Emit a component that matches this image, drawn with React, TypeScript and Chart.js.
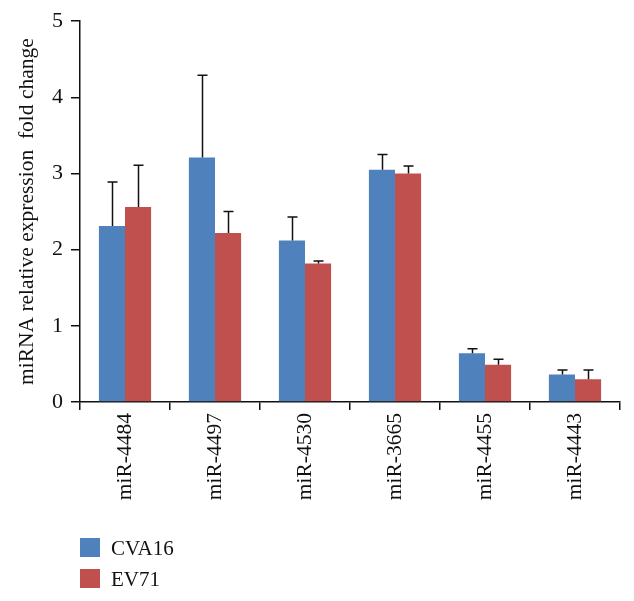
import React, { useEffect, useRef } from "react";
import { Chart, registerables } from "chart.js";

Chart.register(...registerables);

const categories = ["miR-4484", "miR-4497", "miR-4530", "miR-3665", "miR-4455", "miR-4443"];
const seriesNames = ["CVA16", "EV71"];
const cva16Values = [2.31, 3.21, 2.12, 3.05, 0.64, 0.36];
const ev71Values = [2.56, 2.22, 1.82, 3.0, 0.49, 0.3];
const cva16ErrTop = [2.89, 4.29, 2.43, 3.25, 0.7, 0.42];
const ev71ErrTop = [3.11, 2.5, 1.85, 3.1, 0.56, 0.42];
const yTicks = [0, 1, 2, 3, 4, 5];

const BLUE = "#4F81BD";
const RED = "#C0504D";
const FONT = "'Liberation Serif', 'Times New Roman', serif";
const TEXT = "#111";

const errorBarPlugin = {
  id: "errorBars",
  afterDatasetsDraw(chart: any) {
    const ctx = chart.ctx;
    const yScale = chart.scales.y;
    ctx.save();
    ctx.strokeStyle = "#111";
    ctx.lineWidth = 1.5;
    chart.data.datasets.forEach((ds: any, di: number) => {
      const meta = chart.getDatasetMeta(di);
      const errs: number[] = ds.errTop;
      meta.data.forEach((bar: any, i: number) => {
        const x = Math.round(bar.x) + 0.5;
        const yTop = yScale.getPixelForValue(errs[i]);
        const yBar = yScale.getPixelForValue(ds.data[i]);
        ctx.beginPath();
        ctx.moveTo(x, yBar);
        ctx.lineTo(x, yTop);
        ctx.moveTo(x - 5, yTop);
        ctx.lineTo(x + 5, yTop);
        ctx.stroke();
      });
    });
    ctx.restore();
  },
};

const legendPlugin = {
  id: "customLegend",
  afterDraw(chart: any) {
    const ctx = chart.ctx;
    ctx.save();
    chart.data.datasets.forEach((ds: any, di: number) => {
      const top = 538 + di * 31;
      ctx.fillStyle = ds.backgroundColor;
      ctx.fillRect(80, top, 20, 19);
      ctx.fillStyle = TEXT;
      ctx.font = `21px ${FONT}`;
      ctx.textBaseline = "middle";
      ctx.textAlign = "left";
      ctx.fillText(ds.label, 111, top + 11);
    });
    ctx.restore();
  },
};

export default function App() {
  const ref = useRef<HTMLCanvasElement | null>(null);

  useEffect(() => {
    document.body.style.margin = "0";
    const canvas = ref.current;
    if (!canvas) return;
    const chart = new Chart(canvas, {
      type: "bar",
      data: {
        labels: categories,
        datasets: [
          {
            label: seriesNames[0],
            data: cva16Values,
            backgroundColor: BLUE,
            errTop: cva16ErrTop,
          } as any,
          {
            label: seriesNames[1],
            data: ev71Values,
            backgroundColor: RED,
            errTop: ev71ErrTop,
          } as any,
        ],
      },
      options: {
        animation: false,
        responsive: false,
        maintainAspectRatio: false,
        layout: { padding: { top: 21, right: 14, left: 0, bottom: 0 } },
        datasets: {
          bar: { categoryPercentage: 0.58, barPercentage: 1.0 },
        },
        plugins: {
          legend: { display: false },
          tooltip: { enabled: false },
        },
        scales: {
          x: {
            grid: {
              display: true,
              drawOnChartArea: false,
              drawTicks: true,
              tickLength: 8,
              color: "#111",
              lineWidth: 1.5,
              offset: true,
            },
            border: { display: true, color: "#111", width: 1.5 },
            ticks: {
              minRotation: 90,
              maxRotation: 90,
              padding: 3,
              color: TEXT,
              font: { family: FONT, size: 21.5 },
            },
            afterFit(scale: any) {
              scale.height = 601 - 402;
            },
          },
          y: {
            min: 0,
            max: 5,
            afterBuildTicks(scale: any) {
              scale.ticks = yTicks.map((v) => ({ value: v }));
            },
            grid: {
              display: true,
              drawOnChartArea: false,
              drawTicks: true,
              tickLength: 9,
              color: "#111",
              lineWidth: 1.5,
            },
            border: { display: true, color: "#111", width: 1.5 },
            ticks: {
              padding: 8,
              color: TEXT,
              font: { family: FONT, size: 22 },
            },
            title: {
              display: true,
              text: "miRNA relative expression  fold change",
              color: TEXT,
              font: { family: FONT, size: 21.5 },
              padding: { top: 14, bottom: 0 },
            },
            afterFit(scale: any) {
              scale.width = 80;
            },
          },
        },
      } as any,
      plugins: [errorBarPlugin, legendPlugin],
    });
    return () => chart.destroy();
  }, []);

  return (
    <div style={{ width: 634, height: 601, background: "#fff" }}>
      <canvas ref={ref} width={634} height={601} style={{ display: "block" }} />
    </div>
  );
}
